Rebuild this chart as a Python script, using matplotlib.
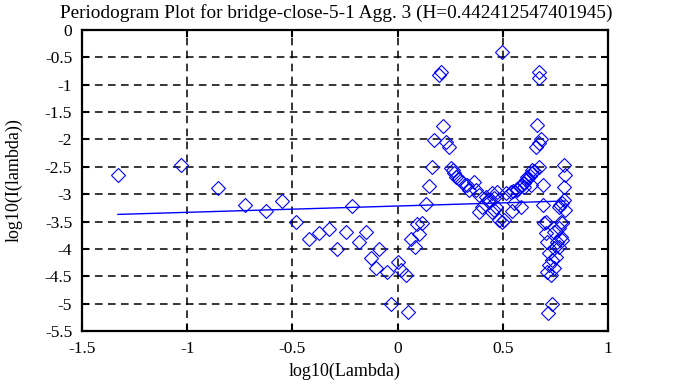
import matplotlib
matplotlib.use("Agg")
import matplotlib.pyplot as plt
import numpy as np

titulo = "Periodogram Plot for bridge-close-5-1 Agg. 3 (H=0.442412547401945)"
hurst = 0.442412547401945
intercepto = -3.217

# log10(lambda), log10(I(lambda))
logLambda = [
    -1.329, -1.030, -0.854, -0.726, -0.627, -0.551, -0.484, -0.423, -0.375, -0.328,
    -0.290, -0.247, -0.214, -0.181, -0.148, -0.124, -0.100, -0.086, -0.048, -0.029,
    0.000, 0.018, 0.042, 0.052, 0.066, 0.085, 0.094, 0.104, 0.118, 0.137,
    0.151, 0.166, 0.175, 0.199, 0.208, 0.218, 0.232, 0.246,
    0.256, 0.262, 0.270, 0.279, 0.290, 0.308, 0.320, 0.331, 0.341, 0.365,
    0.374, 0.388, 0.403, 0.422, 0.436, 0.436, 0.450, 0.460, 0.469, 0.474,
    0.388, 0.450, 0.483, 0.497, 0.507, 0.497, 0.459,
    0.516, 0.540, 0.550, 0.569, 0.570, 0.580, 0.592, 0.600, 0.602, 0.610,
    0.616, 0.620, 0.630, 0.635, 0.640, 0.640, 0.650, 0.554, 0.588, 0.545,
    0.664, 0.683, 0.659, 0.673, 0.673, 0.673, 0.673, 0.792, 0.797, 0.792,
    0.792, 0.773, 0.692, 0.692, 0.697, 0.782, 0.706, 0.711, 0.744, 0.768,
    0.778, 0.782, 0.768, 0.744, 0.721, 0.735, 0.721, 0.744, 0.711, 0.730,
    0.735, 0.716, 0.768, 0.782, 0.778, 0.797, 0.754, 0.759, 0.706,
]
logI = [
    -2.65, -2.47, -2.89, -3.20, -3.31, -3.13, -3.51, -3.82, -3.71, -3.64,
    -4.00, -3.69, -3.22, -3.88, -3.69, -4.17, -4.35, -4.00, -4.42, -5.01,
    -4.24, -4.39, -4.48, -5.16, -3.82, -3.97, -3.55, -3.73, -3.53, -3.18,
    -2.85, -2.50, -2.01, -0.82, -0.77, -1.76, -2.05, -2.14,
    -2.52, -2.56, -2.61, -2.69, -2.72, -2.78, -2.84, -2.83, -2.93, -2.78,
    -2.93, -3.02, -3.24, -3.05, -3.14, -3.11, -2.98, -3.07, -3.24, -2.96,
    -3.33, -3.33, -3.47, -3.51, -3.47, -0.40, -3.29,
    -2.98, -2.96, -2.95, -2.93, -2.90, -2.86, -2.83, -2.80, -2.87, -2.75,
    -2.69, -2.70, -2.66, -2.83, -2.56, -2.62, -2.58, -3.16, -3.24, -3.31,
    -1.74, -1.99, -2.14, -2.07, -0.77, -0.88, -2.50, -2.47, -2.65, -2.87,
    -3.11, -3.20, -2.83, -3.20, -3.53, -3.53, -3.71, -3.88, -3.69, -3.62,
    -3.78, -3.84, -3.97, -3.99, -4.08, -4.20, -4.30, -4.35, -4.42, -4.48,
    -5.01, -5.17, -3.24, -3.16, -3.51, -3.29, -4.15, -3.88, -3.51,
]

plt.rcParams["font.family"] = ["Liberation Serif", "DejaVu Serif"]

fig = plt.figure(figsize=(6.83, 3.87), dpi=100)
ax = fig.add_axes([0.120, 0.1447, 0.770, 0.778])

ax.plot(logLambda, logI, linestyle="none", marker="D", markersize=7.4,
        markerfacecolor="none", markeredgecolor="#0000ff", markeredgewidth=0.8)

# reta ajustada: inclinacao = 1 - 2H
inclinacao = 1 - 2 * hurst
xs = np.array([min(logLambda), max(logLambda)])
ax.plot(xs, intercepto + inclinacao * xs, color="#0000ff", linewidth=1.0)

ax.set_xlim(-1.5, 1)
ax.set_ylim(-5.5, 0)
ax.set_xticks(np.arange(-1.5, 1.01, 0.5))
ax.set_yticks(np.arange(-5.5, 0.01, 0.5))
ax.set_xticklabels(["-1.5", "-1", "-0.5", "0", "0.5", "1"])
ax.set_yticklabels(["-5.5", "-5", "-4.5", "-4", "-3.5", "-3", "-2.5", "-2", "-1.5", "-1", "-0.5", "0"])
ax.grid(True, color="black", linewidth=1.1, linestyle=(0, (5, 3.5)))
ax.tick_params(direction="in", length=5, width=1.5, top=True, right=True,
               labelsize=12.5, pad=7, colors="black")
for s in ax.spines.values():
    s.set_linewidth(1.6)

ax.set_xlabel("log10(Lambda)", fontsize=13, labelpad=4)
ax.set_ylabel("log10(I(lambda))", fontsize=13, labelpad=16)
fig.text(0.493, 0.966, titulo, ha="center", va="center", fontsize=13.9)

fig.savefig("out.png", dpi=100)
